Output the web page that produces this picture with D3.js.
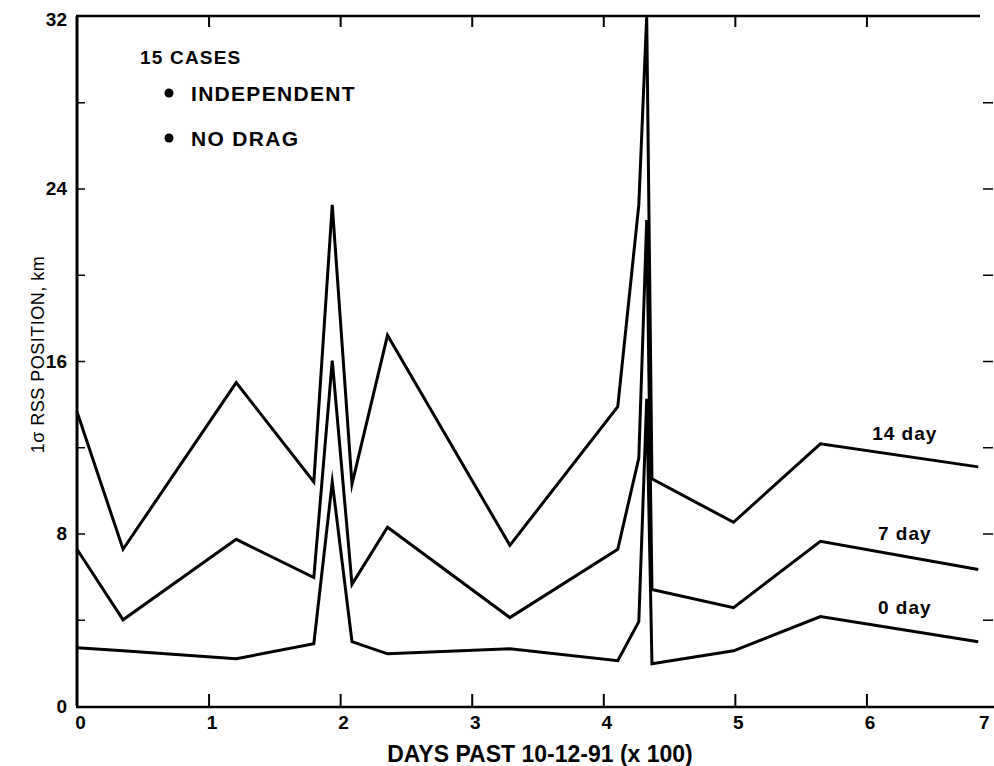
<!DOCTYPE html>
<html>
<head>
<meta charset="utf-8">
<script src="https://cdn.jsdelivr.net/npm/d3@7/dist/d3.min.js"></script>
<style>
  html, body { margin: 0; padding: 0; background: #fff; }
  svg { display: block; }
  text { font-family: "Liberation Sans", Arial, sans-serif; fill: #000; }
</style>
</head>
<body>
<svg id="chart" width="994" height="766"></svg>
<script>
// Sample epochs, days past 10-12-91 in hundreds
const days = [0, 0.35, 1.21, 1.80, 1.94, 2.09, 2.36, 3.29, 4.11, 4.27, 4.33, 4.37, 4.99, 5.65, 6.85];

// 1-sigma RSS position error (km) for each prediction span
const pred14 = [13.65, 7.27, 15.0, 10.39, 23.24, 10.29, 17.19, 7.45, 13.88, 23.24, 32.0, 10.53, 8.52, 12.16, 11.09];
const pred7  = [7.27, 4.0, 7.73, 5.96, 16.02, 5.64, 8.29, 4.10, 7.27, 11.5, 22.54, 5.40, 4.56, 7.64, 6.33];
const pred0  = [2.70, 2.56, 2.19, 2.89, 10.39, 2.98, 2.42, 2.65, 2.10, 3.91, 14.25, 1.96, 2.56, 4.15, 2.98];

const seriesNames = ["14 day", "7 day", "0 day"];
const xTicks = [0, 1, 2, 3, 4, 5, 6, 7];
const xTickLabels = ["0", "1", "2", "3", "4", "5", "6", "7"];
const yTicks = [0, 8, 16, 24, 32];
const yMinorTicks = [4, 12, 20, 28];
const legendLines = ["15 CASES", "INDEPENDENT", "NO DRAG"];

const svg = d3.select("#chart");

const x = d3.scaleLinear().domain([0, 7]).range([77, 998]);
const y = d3.scaleLinear().domain([0, 32]).range([706, 16]);

const ink = "#000";

// Frame: left axis, top edge, bottom axis
svg.append("line").attr("x1", x(0)).attr("x2", x(0)).attr("y1", y(32)).attr("y2", y(0))
  .attr("stroke", ink).attr("stroke-width", 3);
svg.append("line").attr("x1", x(0) - 1).attr("x2", 980).attr("y1", y(32)).attr("y2", y(32))
  .attr("stroke", ink).attr("stroke-width", 2.5);
svg.append("line").attr("x1", x(0) - 1).attr("x2", 994).attr("y1", y(0) + 1).attr("y2", y(0) + 1)
  .attr("stroke", ink).attr("stroke-width", 2.5);

// Bottom axis: inward ticks and labels
const xAxis = d3.axisBottom(x)
  .tickValues(xTicks)
  .tickFormat((d, i) => xTickLabels[i])
  .tickSizeInner(-13)
  .tickSizeOuter(0)
  .tickPadding(9);
const gx = svg.append("g").attr("transform", `translate(0,${y(0) + 1})`).call(xAxis);
gx.select(".domain").remove();
gx.selectAll(".tick line").attr("stroke", ink).attr("stroke-width", 2)
  .attr("display", d => (d === 0 || d === 7) ? "none" : null);
gx.selectAll(".tick text")
  .style("font-family", "'Liberation Sans', Arial, sans-serif")
  .attr("font-size", 19).attr("font-weight", "bold").attr("fill", ink)
  .attr("text-anchor", d => d === 7 ? "end" : "middle")
  .attr("dx", d => d === 7 ? -9 : 3);

// Top edge ticks
const gxt = svg.append("g").attr("transform", `translate(0,${y(32)})`)
  .call(d3.axisTop(x).tickValues(xTicks.filter(d => d > 0 && d < 7)).tickSizeInner(-11).tickSizeOuter(0).tickFormat(""));
gxt.select(".domain").remove();
gxt.selectAll(".tick line").attr("stroke", ink).attr("stroke-width", 2);

// Left axis: labelled ticks plus minor ticks
const yAxis = d3.axisLeft(y)
  .tickValues(yTicks)
  .tickFormat(d3.format("d"))
  .tickSizeInner(-8)
  .tickSizeOuter(0)
  .tickPadding(10);
const gy = svg.append("g").attr("transform", `translate(${x(0)},0)`).call(yAxis);
gy.select(".domain").remove();
gy.selectAll(".tick line").attr("stroke", ink).attr("stroke-width", 1.5)
  .attr("display", d => (d === 0 || d === 32) ? "none" : null);
gy.selectAll(".tick text")
  .style("font-family", "'Liberation Sans', Arial, sans-serif")
  .attr("font-size", 19).attr("font-weight", "bold").attr("fill", ink)
  .attr("dy", d => d === 32 ? "0.5em" : "0.32em");

const gym = svg.append("g").attr("transform", `translate(${x(0)},0)`)
  .call(d3.axisLeft(y).tickValues(yMinorTicks).tickSizeInner(-8).tickSizeOuter(0).tickFormat(""));
gym.select(".domain").remove();
gym.selectAll(".tick line").attr("stroke", ink).attr("stroke-width", 1.5);

// Right-hand tick marks
const gyr = svg.append("g").attr("transform", `translate(983,0)`)
  .call(d3.axisRight(y).tickValues([4, 8, 12, 16, 20, 24, 28]).tickSizeInner(10).tickSizeOuter(0).tickFormat(""));
gyr.select(".domain").remove();
gyr.selectAll(".tick line").attr("stroke", ink).attr("stroke-width", 1.5);

// Error curves
const line = d3.line().x((d, i) => x(days[i])).y(d => y(d)).curve(d3.curveLinear);
[pred14, pred7, pred0].forEach(vals => {
  svg.append("path")
    .datum(vals)
    .attr("d", line)
    .attr("fill", "none")
    .attr("stroke", ink)
    .attr("stroke-width", 3)
    .attr("stroke-linejoin", "miter")
    .attr("stroke-miterlimit", 10);
});

// Curve labels above the right-hand segments
const labelDay = 6.2;
const labelVals = [pred14, pred7, pred0];
seriesNames.forEach((name, k) => {
  const vals = labelVals[k];
  const n = vals.length;
  const t = (labelDay - days[n - 2]) / (days[n - 1] - days[n - 2]);
  const v = vals[n - 2] + t * (vals[n - 1] - vals[n - 2]);
  svg.append("text")
    .attr("x", x(labelDay) + 12)
    .attr("y", y(v) - 14)
    .attr("text-anchor", "middle")
    .attr("font-size", 19)
    .attr("font-weight", "bold")
    .attr("letter-spacing", 1)
    .text(name);
});

// Legend block
svg.append("text").attr("x", 140).attr("y", 64)
  .attr("font-size", 19).attr("font-weight", "bold").attr("letter-spacing", 1.2).text(legendLines[0]);
[legendLines[1], legendLines[2]].forEach((txt, i) => {
  const yy = 93 + i * 45;
  svg.append("circle").attr("cx", 169).attr("cy", yy).attr("r", 4.5).attr("fill", ink);
  svg.append("text").attr("x", 191).attr("y", yy + 8)
    .attr("font-size", 21).attr("font-weight", "bold").attr("letter-spacing", 1.3).text(txt);
});

// Axis titles
svg.append("text")
  .attr("transform", `translate(44,${y(16.3)}) rotate(-90)`)
  .attr("text-anchor", "middle")
  .attr("font-size", 18)
  .attr("letter-spacing", 0.5)
  .text("1σ RSS POSITION, km");

svg.append("text")
  .attr("x", 540).attr("y", 762)
  .attr("text-anchor", "middle")
  .attr("font-size", 23).attr("font-weight", "bold")
  .text("DAYS PAST 10-12-91 (x 100)");
</script>
</body>
</html>
